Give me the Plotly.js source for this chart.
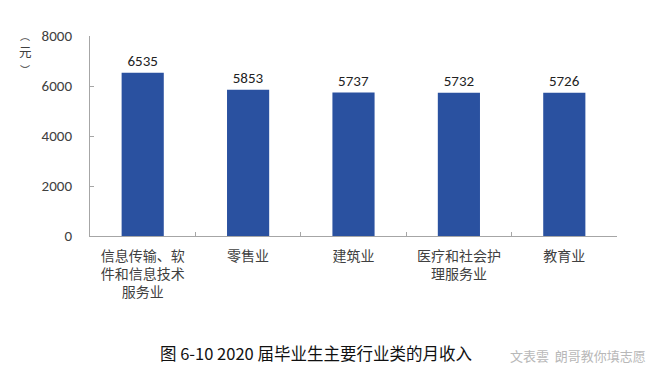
<!DOCTYPE html>
<html>
<head>
<meta charset="utf-8">
<script src="https://cdn.plot.ly/plotly-3.0.1.min.js"></script>
<style>html,body{margin:0;padding:0;background:#fff;}#chart{width:660px;height:378px;}</style>
</head>
<body>
<div id="chart"></div>
<script>
const categories = ["信息传输、软<br>件和信息技术<br>服务业", "零售业", "建筑业", "医疗和社会护<br>理服务业", "教育业"];
const incomes = [6535, 5853, 5737, 5732, 5726];
const yTicks = [0, 2000, 4000, 6000, 8000];
const chartTitle = "图 6-10 2020 届毕业生主要行业类的月收入";
const watermark = "文表雲  朗哥教你填志愿";
const yUnitChars = ["︵", "元", "︶"];

const font = "'Noto Sans CJK SC', 'Noto Sans', sans-serif";
const numFont = "Calibri, Carlito, 'Liberation Sans', 'Noto Sans', sans-serif";

const trace = {
  type: 'bar',
  x: categories,
  y: incomes,
  marker: {color: '#2a51a0', line: {width: 0}},
  text: incomes.map(String),
  textposition: 'outside',
  textfont: {family: numFont, size: 15, color: '#222'},
  cliponaxis: false,
  hoverinfo: 'none'
};

// vertical unit label, one character per annotation (paper coords)
const unitY = [1.005, 0.92, 0.835];
const unitAnn = yUnitChars.map((c, i) => ({
  text: c, xref: 'paper', yref: 'paper', x: -0.123, y: unitY[i],
  xanchor: 'center', yanchor: 'middle', showarrow: false,
  font: {family: font, size: i === 1 ? 12.5 : 10, color: '#404040'}
}));

const layout = {
  width: 660, height: 378,
  margin: {l: 90, r: 43, t: 36, b: 142},
  paper_bgcolor: '#fff', plot_bgcolor: '#fff',
  showlegend: false,
  bargap: 0.6,
  font: {family: font, color: '#404040', size: 13},
  xaxis: {
    type: 'category',
    showline: true, linecolor: '#a6a6a6', linewidth: 1,
    ticks: 'inside', tickson: 'boundaries', ticklen: 4, tickcolor: '#a6a6a6',
    showgrid: false, zeroline: false,
    ticklabelstandoff: 7,
    tickfont: {family: font, size: 14, color: '#404040'},
    tickangle: 0
  },
  yaxis: {
    range: [0, 8000],
    tickvals: yTicks,
    ticktext: yTicks.map(String),
    showline: true, linecolor: '#a6a6a6', linewidth: 1,
    ticks: 'inside', ticklen: 4, tickcolor: '#a6a6a6',
    showgrid: false, zeroline: false,
    ticklabelstandoff: 14,
    tickfont: {family: numFont, size: 15, color: '#404040'}
  },
  annotations: unitAnn.concat([
    {text: chartTitle, xref: 'paper', yref: 'paper', x: 0.429, y: -0.585, xanchor: 'center', yanchor: 'middle',
     showarrow: false, font: {family: font, size: 16.5, color: '#111'}},
    {text: watermark, xref: 'paper', yref: 'paper', x: 0.926, y: -0.595, xanchor: 'center', yanchor: 'middle',
     showarrow: false, font: {family: font, size: 13, color: '#b8b8b8'}}
  ])
};

Plotly.newPlot('chart', [trace], layout, {displayModeBar: false, staticPlot: true});
</script>
</body>
</html>
